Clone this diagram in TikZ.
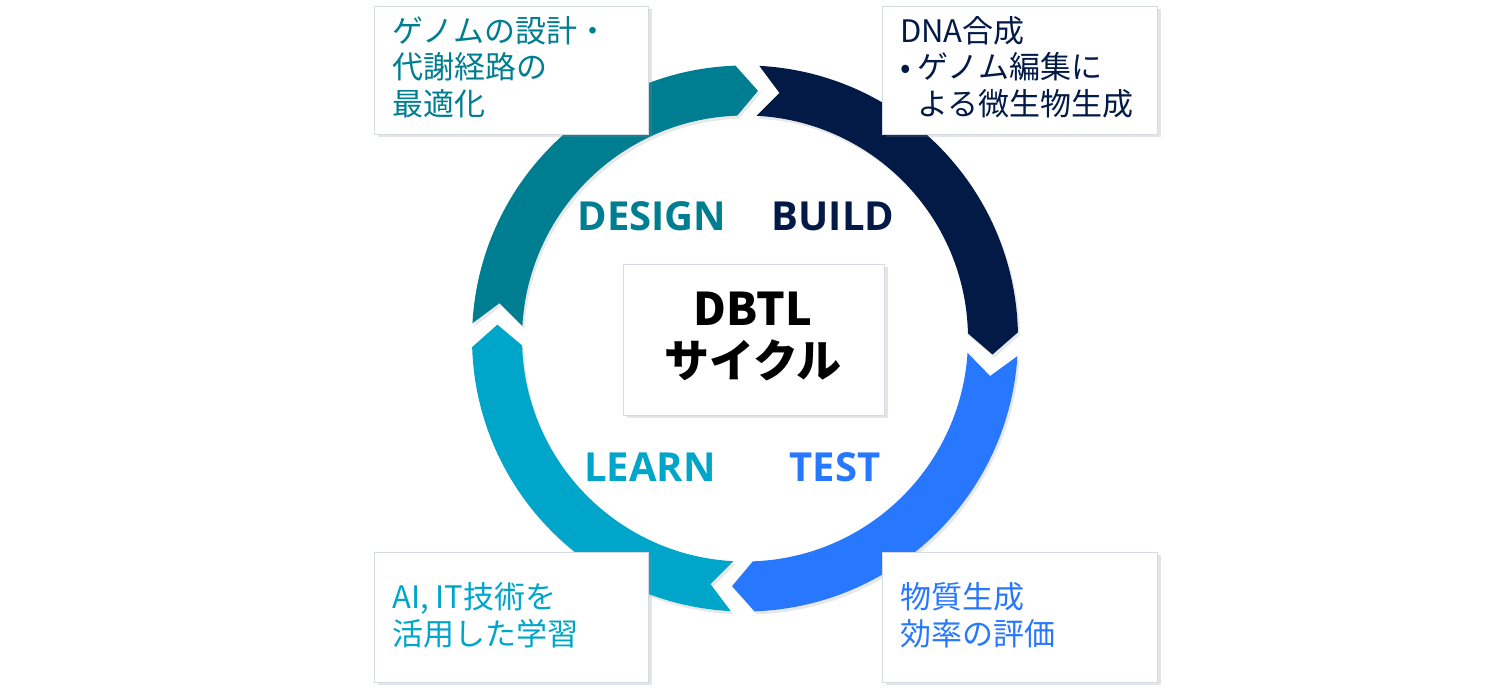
\documentclass[tikz,border=0pt]{standalone}
\usepackage{fontspec}
\setmainfont{Noto Sans CJK JP}
\newfontfamily\labfont{Open Sans}
\usetikzlibrary{shadows}
\definecolor{cteal}{HTML}{007E91}
\definecolor{cnavy}{HTML}{031A47}
\definecolor{cblue}{HTML}{2878FF}
\definecolor{ccyan}{HTML}{00A6C9}
\definecolor{boxline}{HTML}{D5DAE5}
\tikzset{
  boxst/.style={draw=boxline, line width=1pt, fill=white, anchor=south west, inner sep=0pt,
    drop shadow={shadow xshift=3pt, shadow yshift=-3pt, opacity=0.22, fill=black!45}},
  arrshadow/.style={drop shadow={shadow xshift=2pt, shadow yshift=-3pt, opacity=0.18, fill=black!50}},
  boxtext/.style={anchor=west, inner sep=0pt, align=left, font=\fontsize{31}{36.5}\selectfont},
  labst/.style={inner sep=0pt, font=\labfont\bfseries\fontsize{40}{44}\selectfont},
}
\newcommand{\ringarrow}[3]{%
  \fill[#3, arrshadow] (#1:273pt) arc[start angle=#1, end angle=#2, radius=273pt]
    -- ({#2-5}:248pt) -- (#2:223pt) arc[start angle=#2, end angle=#1, radius=223pt]
    -- ({#1-5}:248pt) -- cycle;}
\begin{document}
\begin{tikzpicture}[x=1pt,y=1pt]
\useasboundingbox[fill=white] (0,0) rectangle (1500,698);
% ring arrows
\begin{scope}[shift={(745,359.5)}]
  \ringarrow{176.8}{92.0}{cteal}
  \ringarrow{87.0}{1.3}{cnavy}
  \ringarrow{-3.7}{-88.0}{cblue}
  \ringarrow{-93.0}{-178.2}{ccyan}
\end{scope}
% boxes
\node[boxst, minimum width=274pt, minimum height=128pt] (b1) at (374,563) {};
\node[boxst, minimum width=275pt, minimum height=128pt] (b2) at (882,563) {};
\node[boxst, minimum width=274pt, minimum height=130pt] (b3) at (374,15) {};
\node[boxst, minimum width=275pt, minimum height=130pt] (b4) at (882,15) {};
\node[boxst, minimum width=261pt, minimum height=151pt] (bc) at (623,282) {};
% box texts
\node[boxtext, text=cteal] (t1) at (392,631) {ゲノムの設計・\\代謝経路の\\最適化};
\node[boxtext, text=cnavy] (t2) at (900,631) {DNA合成\\\makebox[17pt][l]{•}ゲノム編集に\\\hspace*{17pt}よる微生物生成};
\node[boxtext, text=ccyan] (t3) at (392,82.5) {AI, IT技術を\\活用した学習};
\node[boxtext, text=cblue] (t4) at (900,82.5) {物質生成\\効率の評価};
% center
\node[inner sep=0pt, align=center, font=\bfseries\fontsize{45}{52}\selectfont] (tc) at (753,362) {DBTL\\サイクル};
% labels
\node[labst, text=cteal] (ld) at (652,482) {DESIGN};
\node[labst, text=cnavy] (lb) at (833,482) {BUILD};
\node[labst, text=ccyan] (ll) at (650,231) {LEARN};
\node[labst, text=cblue] (lt) at (835,231) {TEST};
\end{tikzpicture}
\end{document}
